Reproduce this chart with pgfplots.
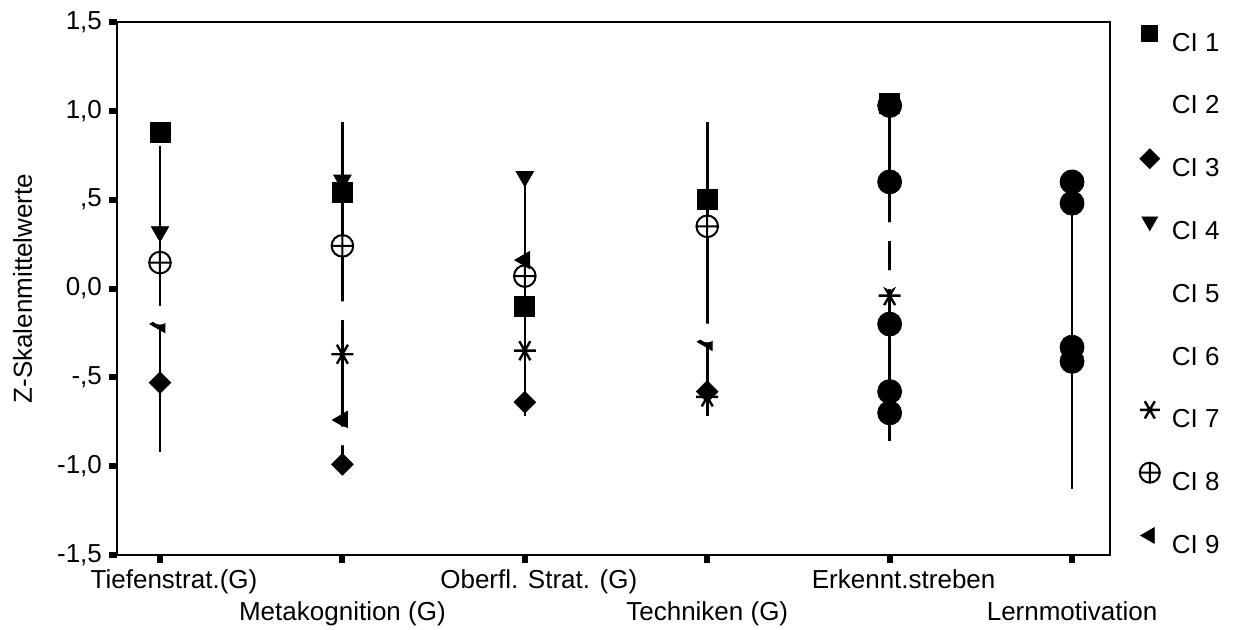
\documentclass[border=0pt]{standalone}
\usepackage{pgfplots}
\pgfplotsset{compat=1.18}
\usepackage{fontspec}
\setmainfont{Liberation Sans}

\pgfplotstableread{
x y
0 0.88
1 0.54
2 -0.10
3 0.50
4 1.04
}\clA
\pgfplotstableread{
x y
0 -0.53
1 -0.99
2 -0.64
3 -0.58
}\clC
\pgfplotstableread{
x y
0 0.32
1 0.61
2 0.63
}\clD
\pgfplotstableread{
x y
1 -0.37
2 -0.35
3 -0.61
4 -0.04
}\clG
\pgfplotstableread{
x y
0 0.146
1 0.24
2 0.07
3 0.35
}\clH
\pgfplotstableread{
x y
0 -0.20
1 -0.74
2 0.16
3 -0.30
}\clI
\pgfplotstableread{
x y
4 1.03
4 0.60
4 -0.20
4 -0.58
4 -0.70
5 0.60
5 0.48
5 -0.33
5 -0.41
}\clCirc
\pgfplotstableread{
x y
0 -0.15
1 -0.125
1 -0.83
3 -0.25
4 0.32
4 0.05
}\clWhite

\begin{document}
\begin{tikzpicture}
\useasboundingbox (-58.5pt,-37pt) rectangle (562.5pt,277.5pt);
\begin{axis}[
  at={(0,0)}, anchor=south west,
  scale only axis, width=496.5pt, height=266.5pt,
  xmin=-0.2357, xmax=5.208, ymin=-1.5, ymax=1.5,
  clip=false,
  axis line style={line width=1pt},
  tick align=outside, tick pos=left,
  major tick length=4pt,
  tick style={line width=3pt, black},
  ytick={-1.5,-1,-0.5,0,0.5,1,1.5},
  yticklabels={{-1,5},{-1,0},{-,5},{0,0},{,5},{1,0},{1,5}},
  xtick={0,2,4},
  xticklabels={\hspace*{14pt}Tiefenstrat.(G), \hspace*{14pt}Oberfl. Strat. (G), \hspace*{14pt}Erkennt.streben},
  extra x ticks={1,3,5},
  extra x tick labels={Metakognition (G), Techniken (G), Lernmotivation},
  extra x tick style={xticklabel style={yshift=-16pt}},
  tick label style={font=\fontsize{13}{15}\selectfont},
  ylabel={Z-Skalenmittelwerte},
  ylabel style={at={(axis description cs:-0.095,0.5)}, anchor=center, font=\fontsize{13}{15}\selectfont},
  legend image code/.code={%
    \pgfinterruptboundingbox\draw[#1] plot coordinates {(0pt,4pt)};\endpgfinterruptboundingbox
    \pgfpathmoveto{\pgfqpoint{-5pt}{0pt}}\pgfpathlineto{\pgfqpoint{5pt}{0pt}}\pgfusepath{use as bounding box}},
  legend style={at={(axis description cs:1.03,0.983)}, anchor=north west, draw=none, fill=none,
     inner sep=0pt, outer sep=0pt,
     font=\fontsize{13}{15}\selectfont, row sep=21.4pt, column sep=6pt,
     nodes={inner sep=0pt, text height=10pt, text depth=0pt}},
  legend cell align=left,
]
% range lines
\addplot[forget plot, line width=1.3pt, mark=none] coordinates {(0,0.80) (0,-0.92)};
\addplot[forget plot, line width=1.3pt, mark=none] coordinates {(1,0.94) (1,-0.99)};
\addplot[forget plot, line width=1.3pt, mark=none] coordinates {(2,0.63) (2,-0.72)};
\addplot[forget plot, line width=1.3pt, mark=none] coordinates {(3,0.94) (3,-0.72)};
\addplot[forget plot, line width=1.3pt, mark=none] coordinates {(4,1.04) (4,-0.86)};
\addplot[forget plot, line width=1.3pt, mark=none] coordinates {(5,0.60) (5,-1.13)};
% markers
\addplot[forget plot, only marks, mark=square*, mark size=5pt, black] table {\clA};
\addplot[forget plot, only marks, mark=square*, mark size=3.8pt, mark options={rotate=45}, black] table {\clC};
\addplot[forget plot, only marks, mark=triangle*, mark size=5pt, mark options={rotate=180}, black] table {\clD};
\addplot[forget plot, only marks, mark=asterisk, mark size=5.5pt, mark options={rotate=90, line width=1.2pt}, black] table {\clG};
\addplot[forget plot, only marks, mark=oplus*, mark size=5.4pt, mark options={fill=white, draw=black, line width=1pt}] table {\clH};
\addplot[forget plot, only marks, mark=triangle*, mark size=5pt, mark options={rotate=90}, black] table {\clI};
\addplot[forget plot, only marks, mark=*, mark size=6pt, black] table {\clCirc};
\addplot[forget plot, only marks, mark=*, mark size=4.5pt, mark options={fill=white, draw=white}] table {\clWhite};
% legend
\addlegendimage{only marks, mark=square*, mark size=4pt, black}
\addlegendentry{CI 1}
\addlegendimage{only marks, mark=*, mark size=4pt, white}
\addlegendentry{CI 2}
\addlegendimage{only marks, mark=square*, mark size=3.5pt, mark options={rotate=45}, black}
\addlegendentry{CI 3}
\addlegendimage{only marks, mark=triangle*, mark size=4.5pt, mark options={rotate=180}, black}
\addlegendentry{CI 4}
\addlegendimage{only marks, mark=*, mark size=4pt, white}
\addlegendentry{CI 5}
\addlegendimage{only marks, mark=*, mark size=4pt, white}
\addlegendentry{CI 6}
\addlegendimage{only marks, mark=asterisk, mark size=5pt, mark options={rotate=90, line width=1.2pt}, black}
\addlegendentry{CI 7}
\addlegendimage{only marks, mark=oplus*, mark size=5pt, mark options={fill=white, draw=black, line width=1pt}}
\addlegendentry{CI 8}
\addlegendimage{only marks, mark=triangle*, mark size=4.5pt, mark options={rotate=90}, black}
\addlegendentry{CI 9}
\end{axis}
\end{tikzpicture}
\end{document}
